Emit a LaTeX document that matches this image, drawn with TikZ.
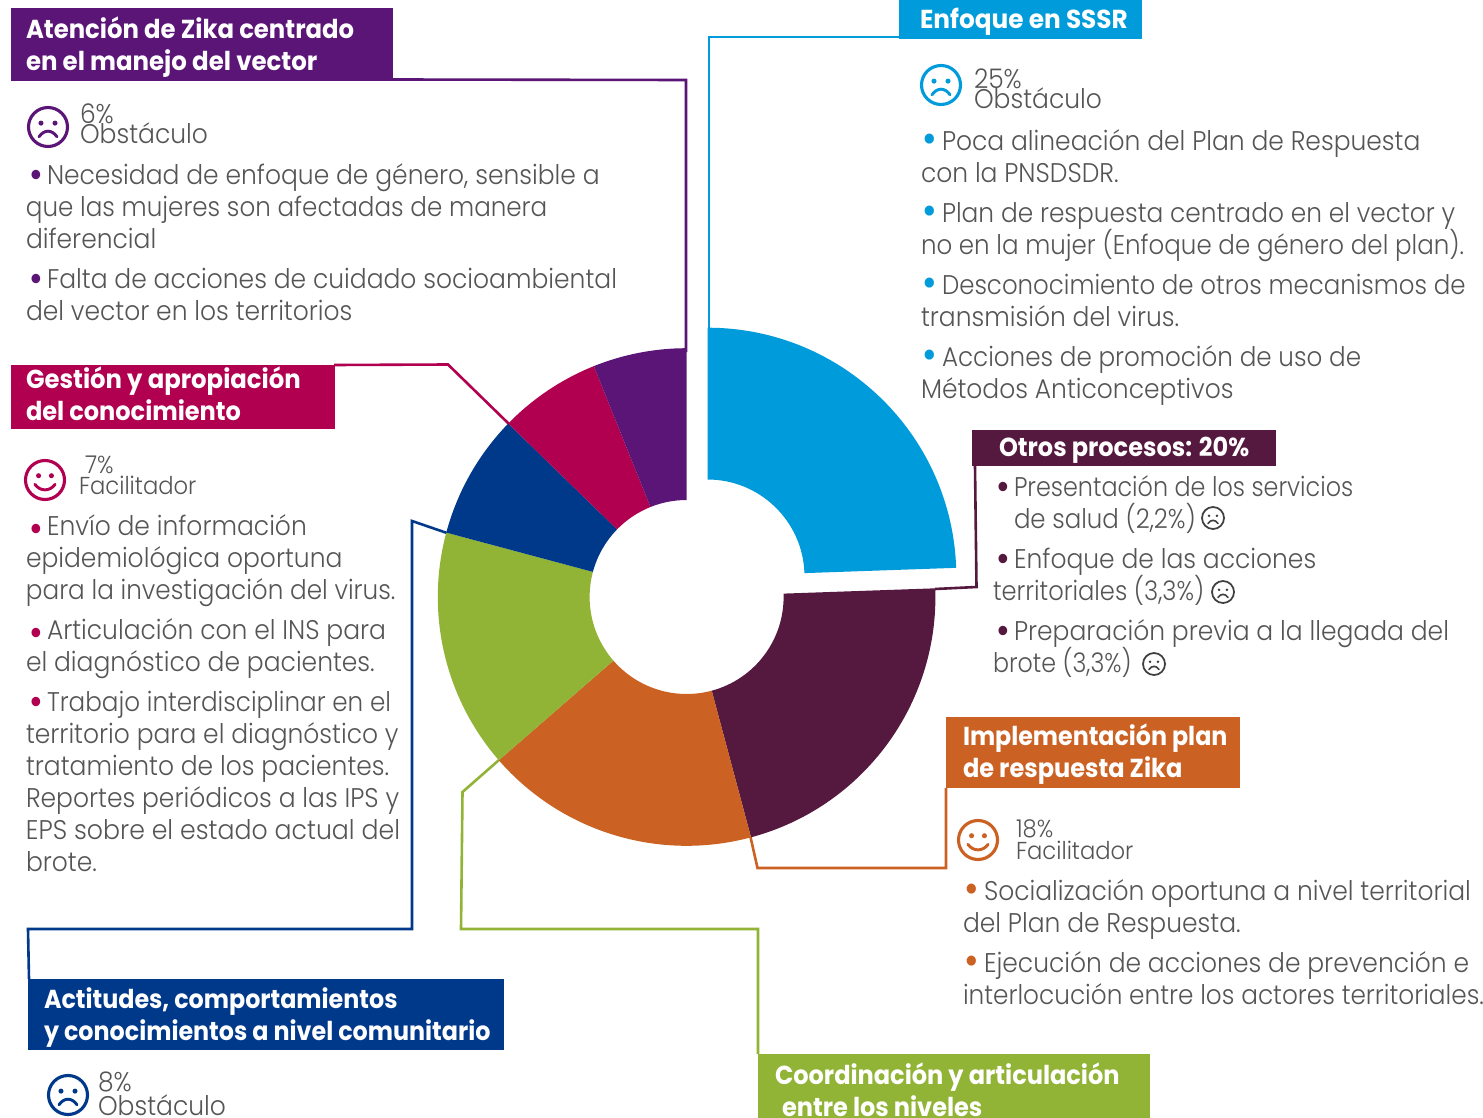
\documentclass[tikz,border=0pt]{standalone}
\usepackage{fontspec}
\setmainfont{Poppins}[UprightFont=* Light,BoldFont=* Bold,FakeStretch=0.925]
\definecolor{zpurple}{HTML}{5A1577}
\definecolor{zblue}{HTML}{009BDB}
\definecolor{zplum}{HTML}{55193F}
\definecolor{zorange}{HTML}{CB6122}
\definecolor{zgreen}{HTML}{92B436}
\definecolor{znavy}{HTML}{00398A}
\definecolor{zcrimson}{HTML}{B0004F}
\definecolor{ztext}{HTML}{555555}
\newcommand{\sect}[3]{\fill[#3] (#1:248.8) arc[start angle=#1,end angle=#2,radius=248.8] -- (#2:97) arc[start angle=#2,end angle=#1,radius=97] -- cycle;}
% name, x, baseline, size, pitch, text
\newcommand{\txt}[6]{\node[textblock,font={\fontsize{#4}{#5}\selectfont\lineskiplimit -100pt\relax}] (#1) at (#2,#3-30.7) {\rule{0pt}{30pt}#6};}
\newcommand{\hdrtxt}[4]{\node[headtext] (#1) at (#2,#3-30) {\rule{0pt}{30pt}#4};}
\newcommand{\bul}[2][-4pt]{\makebox[21pt][l]{\hspace{3.5pt}\textcolor{#2}{\raisebox{#1}{\scalebox{1.5}{•}}}}}
\newcommand{\bulL}[1]{\makebox[21pt][l]{\hspace{1.5pt}\textcolor{#1}{\raisebox{-3.5pt}{\scalebox{1.6}{•}}}}}
\newcommand{\nw}[2]{\scalebox{#1}[1]{#2}}
\newcommand{\facesad}[4]{\begin{scope}[shift={(#1,#2)},x=#3pt,y=-#3pt]
\draw[#4,line width=#3*0.16pt] (0,0) circle[radius=1];
\fill[#4] (-.36,-.2) circle[radius=.13] (.36,-.2) circle[radius=.13];
\draw[#4,line width=#3*0.15pt,line cap=round] (-.46,.5) .. controls (-.2,.12) and (.2,.12) .. (.46,.5);
\end{scope}}
\newcommand{\facehappy}[4]{\begin{scope}[shift={(#1,#2)},x=#3pt,y=-#3pt]
\draw[#4,line width=#3*0.16pt] (0,0) circle[radius=1];
\fill[#4] (-.33,-.22) circle[radius=.13] (.33,-.22) circle[radius=.13];
\draw[#4,line width=#3*0.15pt,line cap=round] (-.52,.22) .. controls (-.25,.6) and (.25,.6) .. (.52,.22);
\end{scope}}
\tikzset{
 textblock/.style={anchor=north west,inner sep=0pt,outer sep=0pt,align=left,text=ztext},
 headtext/.style={anchor=north west,inner sep=0pt,outer sep=0pt,align=left,text=white,font=\fontsize{26}{32}\selectfont\bfseries},
 hdr/.style={anchor=north west,inner sep=0pt,outer sep=0pt,minimum width=#1},
 conn/.style={line width=2.6pt,line join=miter}
}
\begin{document}
\begin{tikzpicture}[x=1pt,y=-1pt]
\clip (0,0) rectangle (1483,1118);
\fill[white] (0,0) rectangle (1483,1118);
% connector anchors on the ring
\coordinate (sPur) at (686,352);
\coordinate (sBlu) at (709,332);
\coordinate (sCri) at (509,424);
\coordinate (sNav) at (447,533);
\coordinate (sGre) at (499,760);
\coordinate (sOra) at (750.5,837);
\coordinate (sPlu) at (935,589);
% headers
\node[hdr=382pt,minimum height=73pt,fill=zpurple] (hPur) at (11,8) {};
\node[hdr=243pt,minimum height=39pt,fill=zblue] (hBlu) at (899,0) {};
\node[hdr=324pt,minimum height=64pt,fill=zcrimson] (hCri) at (11,365) {};
\node[hdr=476pt,minimum height=71pt,fill=znavy] (hNav) at (28,979) {};
\node[hdr=392pt,minimum height=64pt,fill=zgreen] (hGre) at (758,1054) {};
\node[hdr=294pt,minimum height=71pt,fill=zorange] (hOra) at (946,717) {};
\node[hdr=304pt,minimum height=36pt,fill=zplum] (hPlu) at (972,430) {};
% connectors
\draw[conn,zpurple] ([yshift=1.5pt]hPur.south east) -- (686,80) -- (sPur);
\draw[conn,zblue] ([yshift=2pt]hBlu.south west) -- (709,37) -- (sBlu);
\draw[conn,zcrimson] ([xshift=-1pt]hCri.north east) -- (448,364.5) -- (sCri);
\draw[conn,znavy] ([xshift=1pt]hNav.north west) -- (28,929) -- (412,929) -- (412,521) -- (sNav);
\draw[conn,zgreen] (hGre.north west) -- (758,929) -- (461,929) -- (462.5,792) -- (sGre);
\draw[conn,zorange] (hOra.south west) -- (946,868) -- (757.5,868) -- (sOra);
\draw[conn,zplum] ([xshift=3pt]hPlu.south west) -- (976.5,587) -- (sPlu);
% donut
\begin{scope}[shift={(686.6,597)},y=1pt]
\sect{2}{-75}{zplum}
\sect{-75}{-139}{zorange}
\sect{-139}{-195}{zgreen}
\sect{165}{135.8}{znavy}
\sect{135.8}{111.9}{zcrimson}
\sect{111.9}{90}{zpurple}
\end{scope}
\begin{scope}[shift={(707.5,576.5)},y=1pt]
\sect{90}{2}{zblue}
\end{scope}
% header texts
\hdrtxt{tPur}{26}{38.5}{\nw{1.012}{Atención de Zika centrado}\\\nw{1.017}{en el manejo del vector}}
\hdrtxt{tBlu}{920}{28.5}{\nw{1.03}{Enfoque en SSSR}}
\hdrtxt{tCri}{26}{388}{\nw{1.012}{Gestión y apropiación}\\del conocimiento}
\hdrtxt{tNav}{44}{1008}{\nw{.99}{Actitudes, comportamientos}\\\nw{.99}{y conocimientos a nivel comunitario}}
\hdrtxt{tGre}{775}{1084}{Coordinación y articulación\\\hspace*{7pt}entre los niveles}
\hdrtxt{tOra}{963}{745}{\nw{.988}{Implementación plan}\\de respuesta Zika}
\hdrtxt{tPlu}{999}{456}{Otros procesos: 20\%}
% faces and percentages
\facesad{48}{127}{19.5}{zpurple}
\txt{pPur}{80}{124.7}{27}{20}{6\%\\Obstáculo}
\facesad{941}{85}{19.5}{zblue}
\txt{pBlu}{974}{89.7}{27}{20}{25\%\\Obstáculo}
\facehappy{45}{480}{19.5}{zcrimson}
\txt{pCri}{79}{474}{24.5}{21}{\hspace*{6pt}7\%\\Facilitador}
\facehappy{978}{840}{19.5}{zorange}
\txt{pOra}{1016}{838}{24.5}{22}{18\%\\Facilitador}
\facesad{68}{1095}{19.5}{znavy}
\txt{pNav}{98}{1092}{27}{24}{8\%\\Obstáculo}
% bodies
\txt{bPur}{26}{185}{27}{32}{\bul{zpurple}Necesidad de enfoque de género, sensible a\\\nw{.985}{que las mujeres son afectadas de manera}\\diferencial}
\txt{bPurB}{26}{289}{27}{32}{\bul{zpurple}Falta de acciones de cuidado socioambiental\\del vector en los territorios}
\txt{bBlu}{921}{151}{27}{32}{\bulL{zblue}Poca alineación del Plan de Respuesta\\con la PNSDSDR.}
\txt{bBluB}{921}{223}{27}{32}{\bulL{zblue}\nw{.995}{Plan de respuesta centrado en el vector y}\\\nw{.982}{no en la mujer (Enfoque de género del plan).}}
\txt{bBluC}{921}{295}{27}{32}{\bulL{zblue}\nw{.98}{Desconocimiento de otros mecanismos de}\\transmisión del virus.}
\txt{bBluD}{921}{367}{27}{32}{\bulL{zblue}\nw{.986}{Acciones de promoción de uso de}\\Métodos Anticonceptivos}
\txt{bPlu}{993}{497}{27}{32}{\bul{zplum}\nw{.955}{Presentación de los servicios}\\\hspace*{21pt}\nw{.978}{de salud (2,2\%)}}
\txt{bPluB}{993}{569}{27}{32}{\bul{zplum}Enfoque de las acciones\\\nw{.968}{territoriales (3,3\%)}}
\txt{bPluC}{993}{641}{27}{32}{\bul{zplum}Preparación previa a la llegada del\\\nw{.95}{brote (3,3\%)}}
\facesad{1213}{518}{11}{black!75}
\facesad{1223}{592}{11}{black!75}
\facesad{1154}{664}{11}{black!75}
\txt{bOra}{963}{901}{27}{32}{\bulL{zorange}Socialización oportuna a nivel territorial\\del Plan de Respuesta.}
\txt{bOraB}{963}{973}{27}{32}{\bulL{zorange}Ejecución de acciones de prevención e\\\nw{.992}{interlocución entre los actores territoriales.}}
\txt{bCri}{26}{536}{27}{32}{\bul[-7pt]{zcrimson}Envío de información\\epidemiológica oportuna\\\nw{.988}{para la investigación del virus.}}
\txt{bCriB}{26}{640}{27}{32}{\bul[-7pt]{zcrimson}Articulación con el INS para\\el diagnóstico de pacientes.}
\txt{bCriC}{26}{712}{27}{32}{\bul{zcrimson}\nw{.986}{Trabajo interdisciplinar en el}\\territorio para el diagnóstico y\\tratamiento de los pacientes.\\Reportes periódicos a las IPS y\\\nw{1.008}{EPS sobre el estado actual del}\\brote.}
\end{tikzpicture}
\end{document}
